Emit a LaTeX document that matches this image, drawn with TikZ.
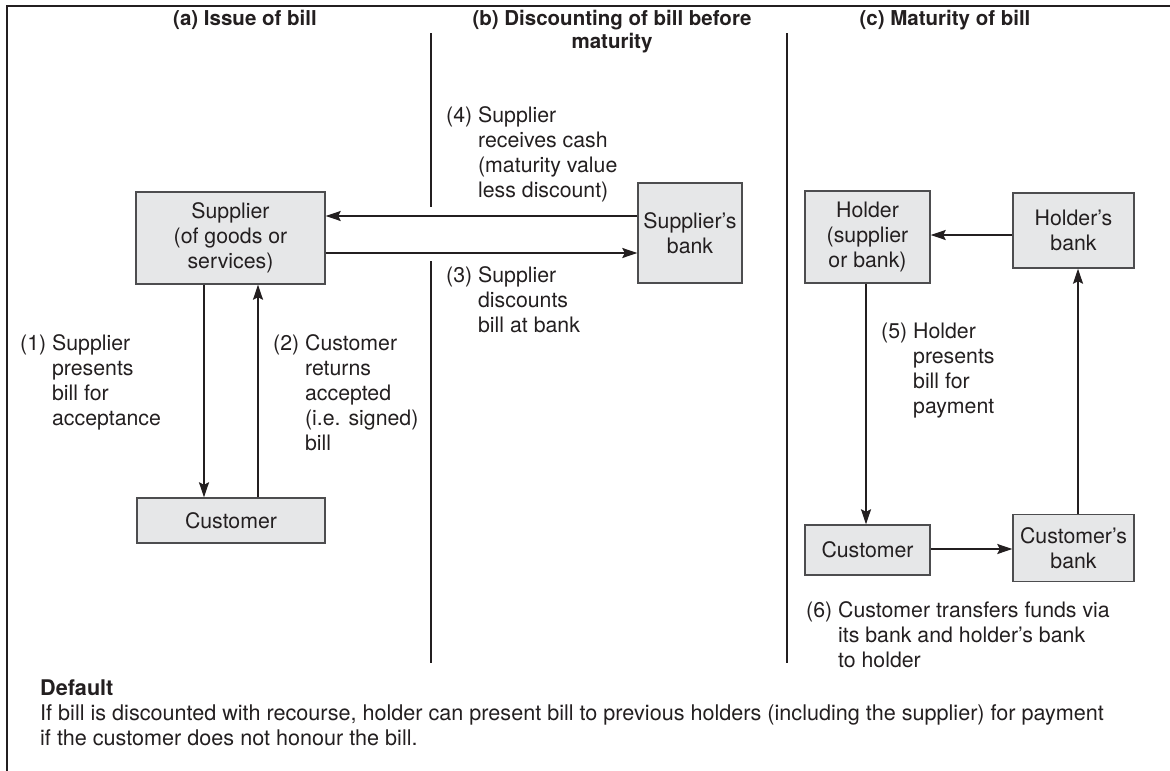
\documentclass[tikz,border=0pt]{standalone}
\usepackage{fontspec}
\setmainfont{TeX Gyre Heros}
\usetikzlibrary{arrows.meta}
\definecolor{ink}{HTML}{231F20}
\definecolor{boxfill}{HTML}{E6E7E8}
\definecolor{boxline}{HTML}{4D4D4F}
\newcommand{\fs}{\fontsize{21.3}{25}\selectfont}
\newcommand{\fh}{\fontsize{20.5}{23}\selectfont\bfseries}
\newcommand{\fd}{\fontsize{21.6}{25}\selectfont}
\newcommand{\lbl}[2]{\begin{tabular}[t]{@{}l@{\ }l@{}}#1 & #2\end{tabular}}
\begin{document}
\begin{tikzpicture}[x=1pt,y=-1pt,
  every node/.style={text=ink,font=\fs,inner sep=0pt},
  box/.style={draw=boxline,fill=boxfill,line width=1.4pt,align=center},
  arr/.style={draw=ink,line width=1.8pt,-{Stealth[length=15pt,width=10pt,inset=2.5pt]}},
  divider/.style={draw=ink,line width=1.1pt},
  head/.style={font=\fh,anchor=base,align=center},
  lab/.style={anchor=base west}]
\useasboundingbox (0,0) rectangle (1170,771);
% frame
\draw[ink,line width=2.4pt] (7,771) -- (7,6) -- (1170,6);
% dividers
\draw[divider] (431,33) -- (431,207);
\draw[divider] (431,261) -- (431,663);
\draw[divider] (787,33) -- (787,663);
% headers
\node[head] (ha) at (245,25) {(a) Issue of bill};
\node[head] (hb) at (612,48) {(b) Discounting of bill before\\maturity};
\node[head] (hc) at (945,25) {(c) Maturity of bill};
% boxes
\node[box,minimum width=189pt,minimum height=92pt] (sup) at (230.5,238) {Supplier\\(of goods or\\services)};
\node[box,minimum width=104pt,minimum height=100pt] (sbank) at (690,233) {Supplier's\\bank};
\node[box,minimum width=188pt,minimum height=45pt] (custa) at (231,520.5) {Customer};
\node[box,minimum width=125pt,minimum height=92pt] (hold) at (867.5,237) {Holder\\(supplier\\or bank)};
\node[box,minimum width=121pt,minimum height=75pt] (hbank) at (1073.5,230.5) {Holder's\\bank};
\node[box,minimum width=125pt,minimum height=50pt] (custc) at (867.5,550) {Customer};
\node[box,minimum width=121pt,minimum height=67pt] (cbank) at (1073.5,548) {Customer's\\bank};
% arrows
\draw[arr] (sbank.west |- 0,216) -- (sup.east |- 0,216);
\draw[arr] (sup.east |- 0,253) -- (sbank.west |- 0,253);
\draw[arr] (sup.south -| 204,0) -- (custa.north -| 204,0);
\draw[arr] (custa.north -| 258,0) -- (sup.south -| 258,0);
\draw[arr] (hbank.west |- 0,235) -- (hold.east |- 0,235);
\draw[arr] (hold.south -| 866,0) -- (custc.north -| 866,0);
\draw[arr] (custc.east |- 0,549) -- (cbank.west |- 0,549);
\draw[arr] (cbank.north -| 1078,0) -- (hbank.south -| 1078,0);
% labels
\node[lab] (l1) at (20,350) {\lbl{(1)}{Supplier\\ & presents\\ & bill for\\ & acceptance}};
\node[lab] (l2) at (273,350) {\lbl{(2)}{Customer\\ & returns\\ & accepted\\ & (i.e. signed)\\ & bill}};
\node[lab] (l4) at (446,122) {\lbl{(4)}{Supplier\\ & receives cash\\ & (maturity value\\ & less discount)}};
\node[lab] (l3) at (446,282) {\lbl{(3)}{Supplier\\ & discounts\\ & bill at bank}};
\node[lab] (l5) at (881,338) {\lbl{(5)}{Holder\\ & presents\\ & bill for\\ & payment}};
\node[lab] (l6) at (806,617) {\lbl{(6)}{Customer transfers funds via\\ & its bank and holder's bank\\ & to holder}};
% default
\node[anchor=base west,font=\fd\bfseries] (def) at (40,695) {Default};
\node[anchor=base west,align=left,font=\fd] (deftxt) at (40,745) {If bill is discounted with recourse, holder can present bill to previous holders (including the supplier) for payment\\if the customer does not honour the bill.};
\end{tikzpicture}
\end{document}
